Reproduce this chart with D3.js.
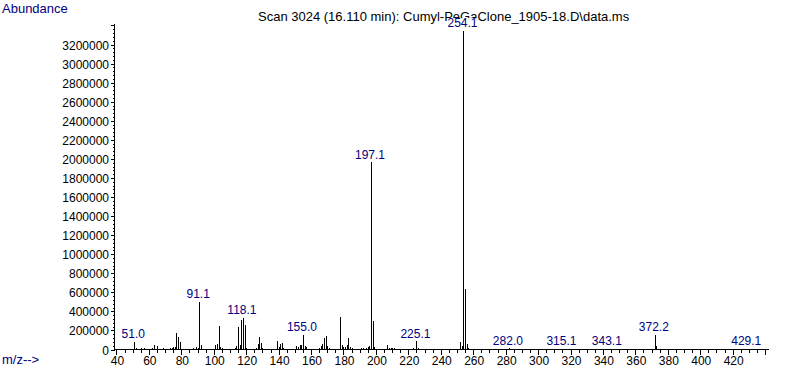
<!DOCTYPE html>
<html><head><meta charset="utf-8">
<script src="https://cdn.jsdelivr.net/npm/d3@7"></script>
<style>
body{margin:0;background:#fff;}
svg text{font-family:"Liberation Sans",Arial,sans-serif;}
</style></head>
<body><svg id="c" width="787" height="385"></svg>
<script>
const mz = [51,52,53,55,57,62,63,65,69,73,74,75,76,77,78,79,87,89,90,91,92,101,102,103,104,105,113,114,115,116,117,118,119,120,126,127,128,129,130,139,140,141,142,143,151,152,153,154,155,156,157,165,166,167,168,169,170,171,178,179,180,181,182,183,184,185,191,192,194,195,196,197,198,199,207,208,209,210,211,212,222,223,225,226,239,252,253,254,255,256,257,282,315,343,372,373,429];
const abundance = [80000,18000,8000,12000,15000,15000,42000,40000,12000,12000,20000,22000,25000,174000,132000,80000,15000,30000,20000,500000,45000,50000,55000,248000,30000,12000,20000,35000,237000,50000,311000,331000,262000,20000,15000,60000,130000,70000,20000,84000,30000,55000,70000,15000,35000,30000,50000,52000,157000,40000,25000,20000,35000,60000,120000,138000,40000,15000,346000,50000,28000,28000,50000,120000,25000,15000,15000,15000,20000,30000,40000,1965000,294000,30000,45000,15000,15000,20000,20000,10000,10000,15000,84000,15000,10000,77000,40000,3345000,630000,60000,12000,12000,8000,8000,154000,40000,8000];
const labelMz = [51.0,91.1,118.1,155.0,197.1,225.1,254.1,282.0,315.1,343.1,372.2,429.1];
const xTicks = d3.range(40, 421, 20);
const yTicks = d3.range(0, 3200001, 200000);
const titleText = "Scan 3024 (16.110 min): Cumyl-PeGaClone_1905-18.D\\data.ms";

const svg = d3.select("#c");
const x0 = 114.5, x1 = 769, yBase = 349.5;
const x = d3.scaleLinear().domain([38.8, 442.4]).range([x0, x1]);
const y = d3.scaleLinear().domain([0, 3200000]).range([yBase, 44.5]);
const yTop = 24;

// title
svg.append("text").attr("x", 258).attr("y", 21).attr("font-size", 13).attr("fill", "#000").text(titleText);
svg.append("text").attr("x", 2).attr("y", 13).attr("font-size", 13).attr("fill", "#000080").text("Abundance");
svg.append("text").attr("x", 2).attr("y", 364).attr("font-size", 13).attr("fill", "#000080").text("m/z-->");

// axes
const g = svg.append("g").attr("shape-rendering", "crispEdges");
g.append("line").attr("x1", x0).attr("x2", x0).attr("y1", yTop).attr("y2", yBase).attr("stroke", "#000");
g.append("line").attr("x1", x0).attr("x2", x1).attr("y1", yBase).attr("y2", yBase).attr("stroke", "#000");

// x ticks
const xMinor = d3.range(40, 441, 5);
g.selectAll(".xm").data(xMinor).join("line")
  .attr("x1", d => Math.round(x(d)) + 0.5).attr("x2", d => Math.round(x(d)) + 0.5)
  .attr("y1", yBase).attr("y2", d => yBase + (d % 20 === 0 ? 5 : 3)).attr("stroke", "#000");
svg.selectAll(".xl").data(xTicks).join("text")
  .attr("x", d => x(d) + 1).attr("y", 365).attr("text-anchor", "middle")
  .attr("font-size", 12).text(d => d);

// y ticks
const yMinor = d3.range(0, 3400001, 40000).filter(v => y(v) >= yTop);
g.selectAll(".ym").data(yMinor).join("line")
  .attr("y1", d => Math.round(y(d)) + 0.5).attr("y2", d => Math.round(y(d)) + 0.5)
  .attr("x1", x0).attr("x2", d => x0 - (d % 200000 === 0 ? 4 : 2)).attr("stroke", "#000");
svg.selectAll(".yl").data(yTicks).join("text")
  .attr("x", 109).attr("y", d => y(d) + 5).attr("text-anchor", "end")
  .attr("font-size", 12).text(d => d);

// peaks
g.selectAll(".pk").data(mz).join("line")
  .attr("x1", d => Math.round(x(d)) + 0.5).attr("x2", d => Math.round(x(d)) + 0.5)
  .attr("y1", yBase).attr("y2", (d, i) => y(abundance[i]))
  .attr("stroke", "#000");

// labels
labelMz.forEach(m => {
  const idx = mz.indexOf(Math.round(m));
  const top = y(idx >= 0 ? abundance[idx] : 0);
  const t = svg.append("text").attr("x", x(Math.round(m)) - 1).attr("y", top - 3.5)
    .attr("text-anchor", "middle").attr("font-size", 12).attr("fill", "#000080").text(m.toFixed(1));
  const bb = t.node().getBBox();
  svg.insert("rect", function(){ return t.node(); })
    .attr("x", bb.x).attr("y", bb.y + 2).attr("width", bb.width).attr("height", bb.height - 2).attr("fill", "#fff");
});
</script></body></html>
